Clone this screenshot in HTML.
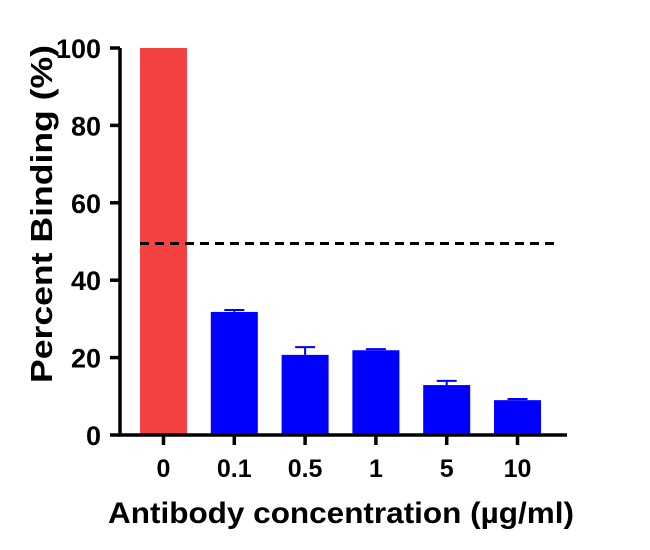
<!DOCTYPE html>
<html><head><meta charset="utf-8"><style>
body{margin:0;background:#fff;}
svg{display:block;font-family:"Liberation Sans",Arial,sans-serif;font-weight:bold;}
</style></head><body>
<svg id="chart" width="650" height="550"></svg>
<script>
const categories=["0","0.1","0.5","1","5","10"];
const values=[100,31.8,20.7,21.9,12.9,9.0];
const errors=[0,0.5,2.0,0.3,1.1,0.3];
const colors=["#f44242","#0000ff","#0000ff","#0000ff","#0000ff","#0000ff"];
const yTicks=[0,20,40,60,80,100];
const threshold=50;
const NS="http://www.w3.org/2000/svg";
const svg=document.getElementById('chart');
const x0=120,x1=567,yBase=435,yTop=48;
const y=v=>yBase-(v/100)*(yBase-yTop);
const step=70.8,bw=47,firstLeft=140;
const xc=i=>firstLeft+bw/2+i*step;
function mk(t,a){const e=document.createElementNS(NS,t);for(const k in a)e.setAttribute(k,a[k]);svg.appendChild(e);return e;}
values.forEach((v,i)=>{
  const r=mk('rect',{x:xc(i)-bw/2,y:y(v),width:bw,height:yBase-y(v),fill:colors[i]});
  
  
  if(errors[i]>0){
    const l=mk('path',{d:`M${xc(i)} ${y(v)}V${y(v+errors[i])}M${xc(i)-10} ${y(v+errors[i])}H${xc(i)+10}`,stroke:colors[i],'stroke-width':2,fill:'none'});
    
    
  }
  const t=mk('text',{x:xc(i),y:477,'text-anchor':'middle','font-size':25});
  t.textContent=categories[i];
  
  
});
const d=mk('line',{x1:140,x2:556,y1:y(threshold)+2,y2:y(threshold)+2,stroke:'#000','stroke-width':3,'stroke-dasharray':'9,6'});


yTicks.forEach(v=>{
  const tk=mk('line',{x1:x0-10,x2:x0,y1:y(v),y2:y(v),stroke:'#000','stroke-width':3.5});
  
  
  const t=mk('text',{x:101,y:y(v)+10,'text-anchor':'end','font-size':27});
  t.textContent=v;
  
  
});
categories.forEach((c,i)=>{
  const tk=mk('line',{x1:xc(i),x2:xc(i),y1:yBase,y2:yBase+10,stroke:'#000','stroke-width':3.5});
  
  
});
const ax=mk('path',{d:`M${x0} ${yTop}V${yBase}H${x1}`,stroke:'#000','stroke-width':3.5,fill:'none'});


const yt=mk('text',{x:0,y:0,'text-anchor':'middle','font-size':31,textLength:338,lengthAdjust:'spacingAndGlyphs',transform:`translate(52,214) rotate(-90)`});
yt.textContent='Percent Binding (%)';


const xt=mk('text',{x:341,y:523,'text-anchor':'middle','font-size':30,textLength:466,lengthAdjust:'spacingAndGlyphs'});
xt.textContent='Antibody concentration (µg/ml)';


</script>
</body></html>
